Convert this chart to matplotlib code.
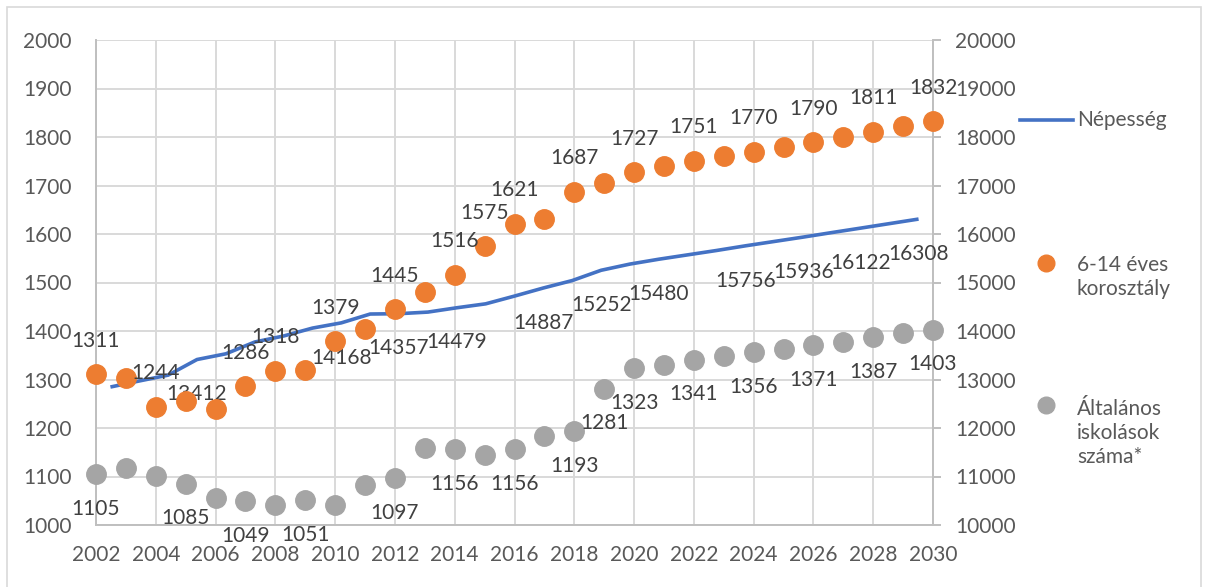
import matplotlib
matplotlib.use("Agg")
import matplotlib.pyplot as plt
from matplotlib.lines import Line2D
from matplotlib.patches import Rectangle

plt.rcParams['font.family'] = ['Lato', 'DejaVu Sans']

years = list(range(2002, 2031))
korosztaly = [1311, 1303, 1244, 1256, 1239, 1286, 1318, 1320, 1379, 1404,
              1445, 1480, 1516, 1575, 1621, 1630, 1687, 1705, 1727, 1740,
              1751, 1761, 1770, 1780, 1790, 1801, 1811, 1822, 1832]
iskolasok = [1105, 1117, 1101, 1085, 1056, 1049, 1041, 1051, 1041, 1082,
             1097, 1159, 1156, 1144, 1156, 1184, 1193, 1281, 1323, 1330,
             1341, 1348, 1356, 1363, 1371, 1378, 1387, 1396, 1403]
nepesseg = [12845, 12970, 13090, 13412, 13530, 13773, 13897, 14060, 14168, 14350,
            14357, 14390, 14479, 14560, 14720, 14887, 15040, 15252, 15380, 15480,
            15570, 15660, 15756, 15846, 15936, 16030, 16122, 16215, 16308]

kor_label_years = [2002, 2004, 2007, 2008, 2010, 2012, 2014, 2015, 2016, 2018,
                   2020, 2022, 2024, 2026, 2028, 2030]
isk_label_years = [2002, 2005, 2007, 2009, 2012, 2014, 2016, 2018, 2019, 2020,
                   2022, 2024, 2026, 2028, 2030]
nep_label_years = [2005, 2010, 2012, 2014, 2017, 2019, 2021, 2024, 2026, 2028, 2030]

x_ticks = list(range(2002, 2031, 2))
left_ticks = list(range(1000, 2001, 100))
right_ticks = list(range(10000, 20001, 1000))

ORANGE = '#ED7D31'
GRAY = '#A5A5A5'
BLUE = '#4472C4'
GRID = '#D9D9D9'
TXT = '#595959'
LBL = '#404040'
FS = 15

W, H = 1208, 587
fig = plt.figure(figsize=(W / 100, H / 100), dpi=100)
fig.patch.set_facecolor('white')

# chart frame
fig.patches.append(Rectangle((7 / W, 1 - 595 / H), (1201 - 7) / W, (595 - 7) / H,
                             transform=fig.transFigure, fill=False,
                             edgecolor=GRID, linewidth=1.2))

pos = [96 / W, 1 - 525 / H, (933 - 96) / W, (525 - 40) / H]

# base axes: grid + left/bottom axis
ax = fig.add_axes(pos, zorder=0)
ax.set_xlim(2002, 2030)
ax.set_ylim(1000, 2000)
ax.set_xticks(x_ticks)
ax.set_yticks(left_ticks)
ax.grid(True, color=GRID, linewidth=1.4)
ax.set_axisbelow(True)
for s in ['top', 'right']:
    ax.spines[s].set_visible(False)
for s in ['left', 'bottom']:
    ax.spines[s].set_color('#BFBFBF')
    ax.spines[s].set_linewidth(1.4)
ax.tick_params(axis='x', length=0, pad=14.5, labelsize=FS, labelcolor=TXT)
ax.tick_params(axis='y', length=0, pad=17.5, labelsize=FS, labelcolor=TXT)

# line axes (secondary, category-style x)
axl = fig.add_axes(pos, zorder=1)
axl.patch.set_visible(False)
axl.set_xlim(-0.5, len(nepesseg) - 0.5)
axl.set_ylim(10000, 20000)
axl.plot(range(len(nepesseg)), nepesseg, color=BLUE, linewidth=2.6,
         solid_capstyle='butt')
axl.set_xticks([])
axl.yaxis.tick_right()
axl.set_yticks(right_ticks)
axl.tick_params(axis='y', direction='out', length=6, width=1.4, color='#BFBFBF',
                pad=10, labelsize=FS, labelcolor=TXT)
for s in ['top', 'left', 'bottom']:
    axl.spines[s].set_visible(False)
axl.spines['right'].set_color('#BFBFBF')
axl.spines['right'].set_linewidth(1.4)
for yr in nep_label_years:
    i = years.index(yr)
    axl.annotate(str(nepesseg[i]), (i, nepesseg[i]), xytext=(0, -25),
                 textcoords='offset points', ha='center', va='center',
                 fontsize=FS, color=LBL, annotation_clip=False)

# dots axes on top
axd = fig.add_axes(pos, zorder=2, sharex=ax, sharey=ax)
axd.patch.set_visible(False)
axd.axis('off')
axd.plot(years, korosztaly, linestyle='none', marker='o', markersize=14,
         color=ORANGE, clip_on=False)
axd.plot(years, iskolasok, linestyle='none', marker='o', markersize=14,
         color=GRAY, clip_on=False)
for yr in kor_label_years:
    i = years.index(yr)
    axd.annotate(str(korosztaly[i]), (yr, korosztaly[i]), xytext=(0, 24),
                 textcoords='offset points', ha='center', va='center',
                 fontsize=FS, color=LBL, annotation_clip=False)
for yr in isk_label_years:
    i = years.index(yr)
    axd.annotate(str(iskolasok[i]), (yr, iskolasok[i]), xytext=(0, -25),
                 textcoords='offset points', ha='center', va='center',
                 fontsize=FS, color=LBL, annotation_clip=False)

# legend (manual)
def fx(px):
    return px / W

def fy(py):
    return 1 - py / H

fig.add_artist(Line2D([fx(1020), fx(1073)], [fy(120), fy(120)], color=BLUE,
                      linewidth=2.6, transform=fig.transFigure))
fig.text(fx(1077), fy(120), 'Népesség', ha='left', va='center', fontsize=FS, color=TXT)
fig.add_artist(Line2D([fx(1046)], [fy(263)], marker='o', markersize=12,
                      color=ORANGE, linestyle='none', transform=fig.transFigure))
fig.text(fx(1077), fy(277), '6-14 éves\nkorosztály', ha='left', va='center',
         fontsize=FS, color=TXT, linespacing=1.25)
fig.add_artist(Line2D([fx(1046)], [fy(405)], marker='o', markersize=12,
                      color=GRAY, linestyle='none', transform=fig.transFigure))
fig.text(fx(1077), fy(433), 'Általános\niskolások\nszáma*', ha='left', va='center',
         fontsize=FS, color=TXT, linespacing=1.25)

fig.savefig('out.png', dpi=100)
